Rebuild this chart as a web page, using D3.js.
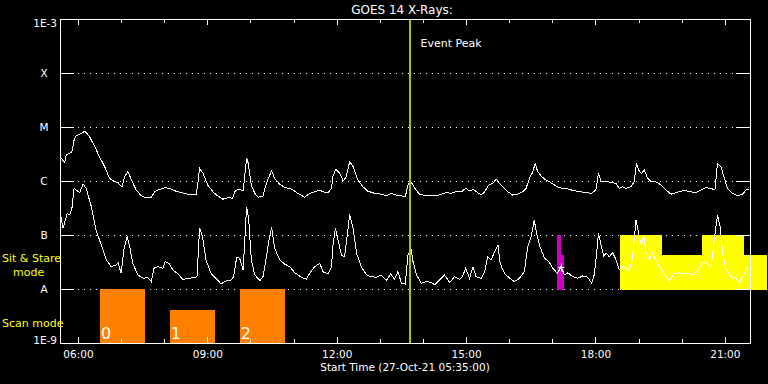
<!DOCTYPE html>
<html>
<head>
<meta charset="utf-8">
<script src="https://cdn.jsdelivr.net/npm/d3@7"></script>
<style>
  body { margin: 0; background: #000; }
  text { font-family: "DejaVu Sans", sans-serif; }
</style>
</head>
<body>
<svg id="chart" width="768" height="384"></svg>
<script>
// chart texts
var title = "GOES 14 X-Rays:";
var xTitle = "Start Time (27-Oct-21 05:35:00)";
var peakText = "Event Peak";

// time axis, hours UT on 27-Oct-21
var startHour = 5 + 35 / 60;
var endHour = 21 + 35 / 60;
var majorHours = [6, 9, 12, 15, 18, 21];
var majorLabels = ["06:00", "09:00", "12:00", "15:00", "18:00", "21:00"];
var minorHours = [6, 7, 8, 9, 10, 11, 12, 13, 14, 15, 16, 17, 18, 19, 20, 21];

// flux axis (W/m^2) and flare classes
var classFlux = [1e-9, 1e-8, 1e-7, 1e-6, 1e-5, 1e-4, 1e-3];
var classLabels = ["1E-9", "A", "B", "C", "M", "X", "1E-3"];

var eventPeak = 13.69;

// scan mode rasters
var scanStart = [6.51, 8.13, 9.75];
var scanEnd = [7.55, 9.17, 10.79];
var scanTop = [1e-8, 4.1e-9, 1e-8];
var scanNames = ["0", "1", "2"];

// sit & stare blocks
var stareStart = [18.58, 19.54, 20.47, 21.45];
var stareEnd = [19.54, 20.47, 21.45, 21.98];
var stareTop = [1e-7, 4.2e-8, 1e-7, 4.2e-8];

// short pointing (magenta)
var pointStart = [17.11, 17.19];
var pointEnd = [17.19, 17.26];
var pointTop = [1e-7, 4.2e-8];

var plusMarks = [[17.19, 2.6e-8], [18.63, 2.6e-8]];

// GOES long channel (1-8 A)
var longFlux = [
  [5.60, 2.75e-6], [5.69, 2.18e-6], [5.73, 3.03e-6], [5.81, 3.26e-6], [5.86, 3.49e-6],
  [5.91, 5.74e-6], [5.96, 6.9e-6], [6.04, 7.3e-6], [6.16, 8.4e-6], [6.27, 6.6e-6],
  [6.39, 4.3e-6], [6.50, 2.8e-6], [6.62, 1.84e-6], [6.73, 1.12e-6], [6.85, 9.7e-7],
  [6.93, 9.3e-7], [7.02, 7.8e-7], [7.08, 1.2e-6], [7.16, 1.49e-6], [7.24, 1.04e-6],
  [7.35, 6.8e-7], [7.47, 5.3e-7], [7.58, 4.9e-7], [7.70, 5.0e-7], [7.78, 6.3e-7],
  [7.89, 7.0e-7], [8.01, 7.5e-7], [8.12, 7.3e-7], [8.24, 6.6e-7], [8.39, 6.1e-7],
  [8.55, 5.7e-7], [8.74, 5.7e-7], [8.78, 9.1e-7], [8.82, 1.72e-6], [8.90, 1.39e-6],
  [9.01, 8.4e-7], [9.13, 6.3e-7], [9.24, 5.3e-7], [9.36, 4.6e-7], [9.47, 4.9e-7],
  [9.59, 4.8e-7], [9.63, 6.3e-7], [9.71, 7.1e-7], [9.83, 6.6e-7], [9.91, 2.63e-6],
  [9.94, 2.28e-6], [10.02, 8.4e-7], [10.10, 5.9e-7], [10.18, 5.0e-7], [10.29, 5.3e-7],
  [10.37, 9.1e-7], [10.49, 1.55e-6], [10.56, 1.12e-6], [10.68, 8.7e-7], [10.79, 7.6e-7],
  [10.95, 7.1e-7], [11.10, 5.9e-7], [11.26, 5.0e-7], [11.37, 5.9e-7], [11.49, 6.3e-7],
  [11.61, 6.8e-7], [11.68, 6.3e-7], [11.80, 6.1e-7], [11.88, 7.3e-7], [11.91, 1.2e-6],
  [11.98, 1.65e-6], [12.07, 1.39e-6], [12.15, 1.0e-6], [12.22, 1.2e-6], [12.30, 2.28e-6],
  [12.38, 1.84e-6], [12.49, 1.04e-6], [12.61, 7.8e-7], [12.72, 6.5e-7], [12.88, 5.9e-7],
  [13.03, 5.7e-7], [13.15, 5.3e-7], [13.27, 5.9e-7], [13.38, 5.5e-7], [13.50, 5.3e-7],
  [13.59, 5.1e-7], [13.65, 8.4e-7], [13.71, 1.01e-6], [13.81, 7.3e-7], [13.92, 5.7e-7],
  [14.08, 5.3e-7], [14.23, 5.3e-7], [14.38, 5.5e-7], [14.54, 6.1e-7], [14.66, 5.9e-7],
  [14.77, 6.4e-7], [14.89, 6.3e-7], [14.99, 7.3e-7], [15.08, 6.6e-7], [15.17, 7.0e-7],
  [15.27, 6.1e-7], [15.35, 5.5e-7], [15.43, 6.3e-7], [15.52, 8.4e-7], [15.62, 9.1e-7],
  [15.70, 1.08e-6], [15.76, 9.3e-7], [15.85, 7.8e-7], [15.97, 6.3e-7], [16.08, 5.5e-7],
  [16.20, 5.7e-7], [16.31, 6.3e-7], [16.39, 7.3e-7], [16.47, 1.12e-6], [16.55, 1.49e-6],
  [16.60, 2.13e-6], [16.66, 1.49e-6], [16.74, 1.24e-6], [16.82, 1.08e-6], [16.93, 9.7e-7],
  [17.05, 8.4e-7], [17.16, 7.6e-7], [17.24, 7.3e-7], [17.36, 7.1e-7], [17.51, 6.6e-7],
  [17.67, 6.3e-7], [17.90, 5.9e-7], [18.01, 6.8e-7], [18.07, 1.39e-6], [18.13, 9.7e-7],
  [18.25, 1.0e-6], [18.36, 9.3e-7], [18.48, 9.1e-7], [18.55, 7.3e-7], [18.63, 7.8e-7],
  [18.71, 7.3e-7], [18.82, 7.8e-7], [18.90, 9.7e-7], [18.95, 2.13e-6], [19.02, 1.49e-6],
  [19.07, 1.39e-6], [19.13, 1.6e-6], [19.21, 1.12e-6], [19.29, 9.7e-7], [19.40, 9.7e-7],
  [19.52, 8.4e-7], [19.64, 6.8e-7], [19.75, 5.7e-7], [19.87, 6.1e-7], [19.98, 6.5e-7],
  [20.10, 6.6e-7], [20.21, 6.3e-7], [20.33, 6.1e-7], [20.45, 6.8e-7], [20.56, 7.5e-7],
  [20.68, 7.3e-7], [20.77, 6.8e-7], [20.83, 2.13e-6], [20.91, 1.84e-6], [20.99, 1.12e-6],
  [21.06, 7.3e-7], [21.18, 5.9e-7], [21.29, 5.3e-7], [21.41, 5.7e-7], [21.49, 6.8e-7],
  [21.57, 7.0e-7]
];

// GOES short channel (0.5-4 A)
var shortFlux = [
  [5.60, 2.35e-7], [5.65, 1.33e-7], [5.71, 1.9e-7], [5.75, 2.52e-7], [5.81, 2.35e-7],
  [5.86, 3.12e-7], [5.91, 7.3e-7], [5.96, 6.8e-7], [6.04, 6.1e-7], [6.12, 8.8e-7],
  [6.19, 7.3e-7], [6.31, 3.34e-7], [6.42, 1.24e-7], [6.54, 6.5e-8], [6.66, 3.44e-8],
  [6.77, 2.59e-8], [6.89, 2.78e-8], [6.93, 3.07e-8], [7.00, 1.95e-8], [7.07, 5.7e-8],
  [7.14, 9.3e-8], [7.20, 6.1e-8], [7.27, 2.99e-8], [7.39, 1.82e-8], [7.51, 1.58e-8],
  [7.62, 1.62e-8], [7.70, 1.37e-8], [7.76, 2.42e-8], [7.85, 2.59e-8], [7.97, 2.42e-8],
  [8.02, 3.2e-8], [8.11, 2.99e-8], [8.20, 2.25e-8], [8.32, 1.9e-8], [8.43, 1.51e-8],
  [8.59, 1.58e-8], [8.70, 1.65e-8], [8.76, 1.69e-8], [8.82, 1.33e-7], [8.88, 1.0e-7],
  [8.97, 3.44e-8], [9.09, 1.9e-8], [9.20, 1.58e-8], [9.32, 1.24e-8], [9.43, 1.41e-8],
  [9.55, 1.47e-8], [9.61, 1.69e-8], [9.68, 3.86e-8], [9.75, 3.7e-8], [9.83, 2.25e-8],
  [9.91, 3.34e-7], [9.96, 1.9e-7], [10.02, 3.44e-8], [10.10, 1.82e-8], [10.22, 1.43e-8],
  [10.29, 1.69e-8], [10.37, 3.96e-8], [10.43, 8.1e-8], [10.49, 1.39e-7], [10.56, 5.7e-8],
  [10.68, 3.44e-8], [10.79, 2.9e-8], [10.91, 2.59e-8], [11.03, 2.0e-8], [11.18, 1.65e-8],
  [11.30, 1.51e-8], [11.37, 1.95e-8], [11.49, 2.59e-8], [11.61, 2.99e-8], [11.68, 2.09e-8],
  [11.80, 1.9e-8], [11.88, 2.59e-8], [11.91, 6.1e-8], [11.97, 1.33e-7], [12.03, 8.1e-8],
  [12.11, 4.26e-8], [12.18, 3.96e-8], [12.25, 1.07e-7], [12.30, 2.42e-7], [12.38, 1.33e-7],
  [12.46, 4.58e-8], [12.57, 2.59e-8], [12.69, 1.82e-8], [12.80, 1.69e-8], [12.92, 1.65e-8],
  [13.03, 1.82e-8], [13.15, 1.43e-8], [13.25, 1.9e-8], [13.34, 1.51e-8], [13.42, 2.09e-8],
  [13.50, 1.28e-8], [13.59, 1.24e-8], [13.65, 4.26e-8], [13.73, 5.3e-8], [13.77, 3.2e-8],
  [13.85, 1.82e-8], [13.96, 1.28e-8], [14.08, 1.37e-8], [14.19, 1.33e-8], [14.27, 1.19e-8],
  [14.38, 1.47e-8], [14.50, 1.82e-8], [14.62, 1.31e-8], [14.73, 1.69e-8], [14.85, 1.51e-8],
  [14.92, 1.74e-8], [14.99, 2.42e-8], [15.08, 1.58e-8], [15.16, 2.59e-8], [15.23, 1.69e-8],
  [15.35, 1.58e-8], [15.43, 2.09e-8], [15.50, 3.96e-8], [15.58, 3.44e-8], [15.66, 4.9e-8],
  [15.74, 6.5e-8], [15.79, 2.99e-8], [15.89, 1.95e-8], [16.01, 1.58e-8], [16.12, 1.37e-8],
  [16.24, 1.58e-8], [16.35, 2.09e-8], [16.43, 6.1e-8], [16.51, 9.3e-8], [16.58, 1.9e-7],
  [16.62, 1.24e-7], [16.70, 6.5e-8], [16.82, 3.7e-8], [16.92, 3.2e-8], [17.01, 2.42e-8],
  [17.12, 1.95e-8], [17.20, 2.59e-8], [17.28, 1.82e-8], [17.36, 2.0e-8], [17.47, 1.69e-8],
  [17.59, 1.58e-8], [17.70, 1.74e-8], [17.82, 1.65e-8], [17.91, 1.28e-8], [17.97, 1.82e-8],
  [18.01, 3.44e-8], [18.07, 1.07e-7], [18.13, 6.5e-8], [18.19, 4.08e-8], [18.25, 4.58e-8],
  [18.32, 3.96e-8], [18.40, 4.7e-8], [18.48, 3.44e-8], [18.55, 2.25e-8], [18.63, 2.59e-8],
  [18.71, 2.42e-8], [18.79, 2.25e-8], [18.86, 3.7e-8], [18.94, 1.9e-7], [19.00, 1.07e-7],
  [19.06, 6.5e-8], [19.12, 1.0e-7], [19.17, 4.9e-8], [19.25, 3.44e-8], [19.32, 4.58e-8],
  [19.40, 3.44e-8], [19.48, 2.59e-8], [19.60, 1.95e-8], [19.71, 1.37e-8], [19.81, 1.9e-8],
  [19.94, 2.0e-8], [20.06, 1.9e-8], [20.17, 1.95e-8], [20.29, 1.82e-8], [20.41, 2.42e-8],
  [20.48, 3.2e-8], [20.58, 2.99e-8], [20.68, 2.59e-8], [20.77, 1.0e-7], [20.83, 2.35e-7],
  [20.89, 1.43e-7], [20.95, 4.58e-8], [21.02, 2.42e-8], [21.14, 1.69e-8], [21.26, 1.58e-8],
  [21.33, 1.28e-8], [21.41, 1.69e-8], [21.49, 2.25e-8], [21.54, 2.59e-8]
];

var svg = d3.select("#chart");
svg.append("rect").attr("width", 768).attr("height", 384).attr("fill", "#000");

var x = d3.scaleLinear().domain([startHour, endHour]).range([60, 750]);
var y = d3.scaleLog().domain([1e-9, 1e-3]).range([343, 19]);

// dotted class lines
svg.append("g")
  .selectAll("line")
  .data(classFlux.slice(1, 6))
  .enter().append("line")
  .attr("x1", 60).attr("x2", 750)
  .attr("y1", d => y(d) + 0.5).attr("y2", d => y(d) + 0.5)
  .attr("stroke", "#fff")
  .attr("stroke-dasharray", "1,5")
  .attr("shape-rendering", "crispEdges");

// scan mode bars
svg.append("g")
  .selectAll("rect")
  .data(scanStart)
  .enter().append("rect")
  .attr("x", (d, i) => x(d))
  .attr("width", (d, i) => x(scanEnd[i]) - x(d))
  .attr("y", (d, i) => y(scanTop[i]))
  .attr("height", (d, i) => y(1e-9) - y(scanTop[i]))
  .attr("fill", "#ff8000")
  .attr("shape-rendering", "crispEdges");

svg.append("g")
  .selectAll("text")
  .data(scanNames)
  .enter().append("text")
  .attr("x", (d, i) => x(scanStart[i]) + 1)
  .attr("y", 339)
  .attr("fill", "#fff")
  .attr("font-size", 16)
  .text(d => d);

// sit & stare blocks
svg.append("g")
  .selectAll("rect")
  .data(stareStart)
  .enter().append("rect")
  .attr("x", d => x(d))
  .attr("width", (d, i) => x(stareEnd[i]) - x(d))
  .attr("y", (d, i) => y(stareTop[i]))
  .attr("height", (d, i) => y(1e-8) + 1 - y(stareTop[i]))
  .attr("fill", "#ffff00")
  .attr("shape-rendering", "crispEdges");

svg.append("g")
  .selectAll("rect")
  .data(pointStart)
  .enter().append("rect")
  .attr("x", d => x(d))
  .attr("width", (d, i) => x(pointEnd[i]) - x(d))
  .attr("y", (d, i) => y(pointTop[i]))
  .attr("height", (d, i) => y(1e-8) + 1 - y(pointTop[i]))
  .attr("fill", "#cc00cc")
  .attr("shape-rendering", "crispEdges");

// the two x-ray curves
var line = d3.line()
  .x(d => x(d[0]))
  .y(d => y(d[1]));

[longFlux, shortFlux].forEach(function(series) {
  svg.append("path")
    .datum(series)
    .attr("d", line)
    .attr("fill", "none")
    .attr("stroke", "#fff")
    .attr("stroke-width", 1)
    .attr("shape-rendering", "crispEdges");
});

// plus markers
svg.append("g")
  .selectAll("path")
  .data(plusMarks)
  .enter().append("path")
  .attr("d", d => {
    var px = Math.round(x(d[0])) + 0.5, py = Math.round(y(d[1])) + 0.5;
    return "M" + (px - 3) + "," + py + "H" + (px + 3) + "M" + px + "," + (py - 4) + "V" + (py + 4);
  })
  .attr("stroke", "#fff")
  .attr("fill", "none");

// event peak line
svg.append("line")
  .attr("x1", x(eventPeak)).attr("x2", x(eventPeak))
  .attr("y1", 19).attr("y2", 343)
  .attr("stroke", "#99cc00")
  .attr("stroke-width", 2)
  .attr("shape-rendering", "crispEdges");

svg.append("text")
  .attr("x", x(eventPeak) + 11)
  .attr("y", 47)
  .attr("fill", "#fff")
  .attr("font-size", 11)
  .text(peakText);

// frame
svg.append("rect")
  .attr("x", 60.5).attr("y", 19.5)
  .attr("width", 690).attr("height", 324)
  .attr("fill", "none")
  .attr("stroke", "#fff")
  .attr("shape-rendering", "crispEdges");

function styleAxis(g) {
  g.select(".domain").remove();
  g.selectAll("line").attr("stroke", "#fff").attr("shape-rendering", "crispEdges");
  g.selectAll("text").attr("fill", "#fff").attr("font-family", "DejaVu Sans").attr("font-size", 10.5);
}

// time axes
svg.append("g")
  .attr("transform", "translate(0,343)")
  .call(d3.axisBottom(x).tickValues(minorHours).tickSize(-4).tickFormat(""))
  .call(styleAxis);

svg.append("g")
  .attr("transform", "translate(0,343)")
  .call(d3.axisBottom(x).tickValues(majorHours).tickSize(-6).tickPadding(8)
    .tickFormat((d, i) => majorLabels[i]))
  .call(styleAxis);

svg.append("g")
  .attr("transform", "translate(0,19)")
  .call(d3.axisTop(x).tickValues(minorHours).tickSize(-4).tickFormat(""))
  .call(styleAxis);

svg.append("g")
  .attr("transform", "translate(0,19)")
  .call(d3.axisTop(x).tickValues(majorHours).tickSize(-6).tickFormat(""))
  .call(styleAxis);

// flux axes
svg.append("g")
  .attr("transform", "translate(60,0)")
  .call(d3.axisLeft(y).tickValues(classFlux.slice(1, 6)).tickSize(-14).tickFormat(""))
  .call(styleAxis);

svg.append("g")
  .attr("transform", "translate(750,0)")
  .call(d3.axisRight(y).tickValues(classFlux.slice(1, 6)).tickSize(-14).tickFormat(""))
  .call(styleAxis);

svg.append("g")
  .selectAll("text")
  .data(classFlux)
  .enter().append("text")
  .attr("x", (d, i) => (i == 0 || i == 6) ? 57 : 44)
  .attr("y", (d, i) => y(d) + (i == 0 ? -3 : i == 6 ? 4 : 0))
  .attr("dy", "0.37em")
  .attr("text-anchor", (d, i) => (i == 0 || i == 6) ? "end" : "middle")
  .attr("fill", "#fff")
  .attr("font-size", 10.5)
  .text((d, i) => classLabels[i]);

// mode labels
svg.append("text").attr("x", 2).attr("y", 262).attr("fill", "#ffff00").attr("font-size", 11).text("Sit & Stare");
svg.append("text").attr("x", 13).attr("y", 276).attr("fill", "#ffff00").attr("font-size", 11).text("mode");
svg.append("text").attr("x", 2).attr("y", 327).attr("fill", "#ffff00").attr("font-size", 11).text("Scan mode");

// titles
svg.append("text")
  .attr("x", 402).attr("y", 14)
  .attr("text-anchor", "middle")
  .attr("fill", "#fff")
  .attr("font-size", 12)
  .text(title);

svg.append("text")
  .attr("x", 405).attr("y", 371)
  .attr("text-anchor", "middle")
  .attr("fill", "#fff")
  .attr("font-size", 10.5)
  .text(xTitle);
</script>
</body>
</html>
